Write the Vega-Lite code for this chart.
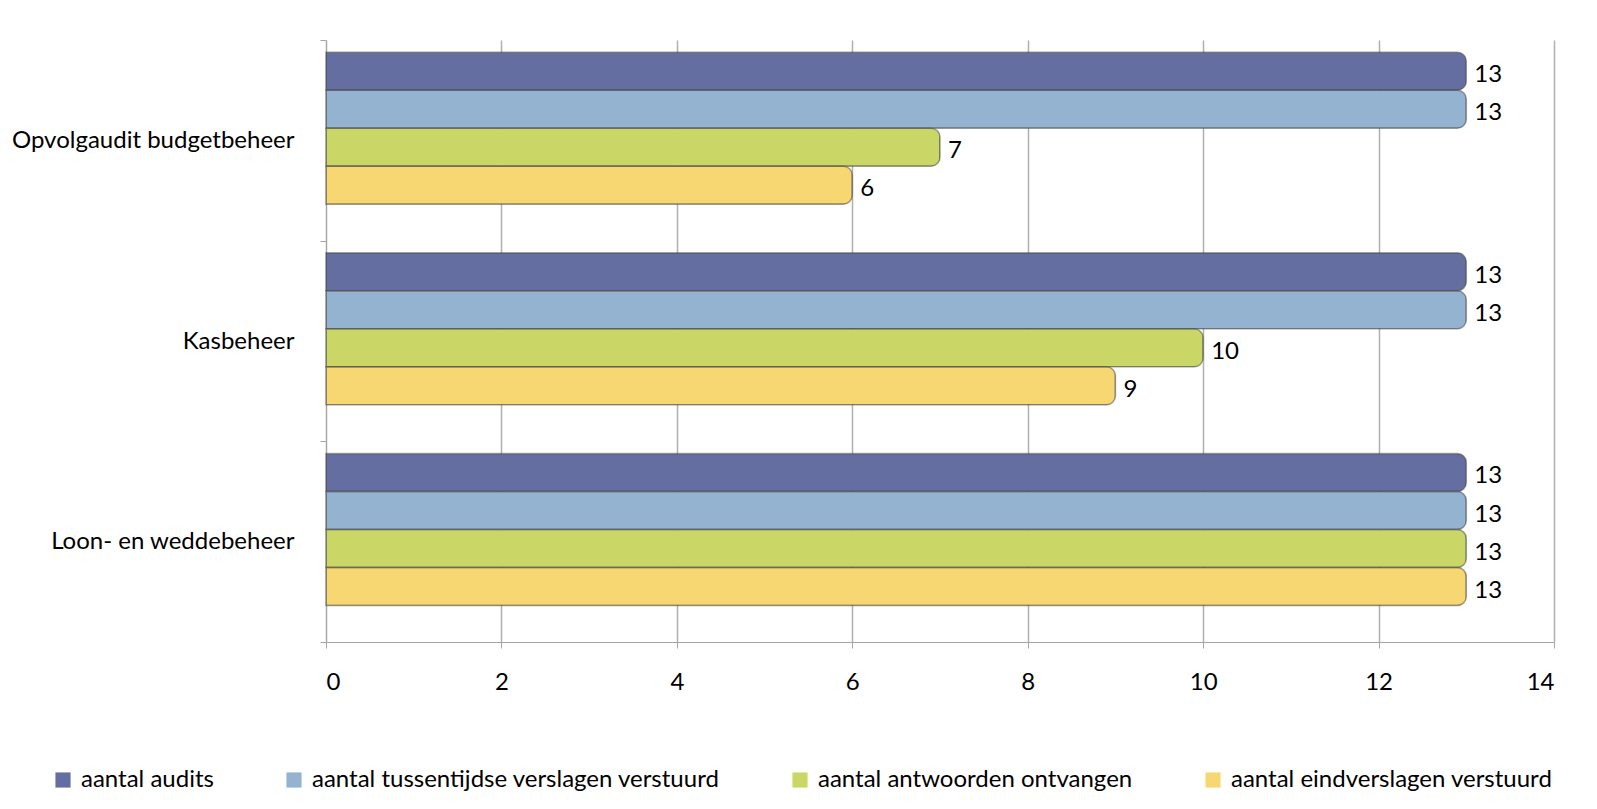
{
  "$schema": "https://vega.github.io/schema/vega-lite/v6.json",
  "width": 1228,
  "height": 602,
  "autosize": {"type": "none"},
  "padding": {"left": 326, "top": 40, "right": 43, "bottom": 167},
  "background": "white",
  "config": {
    "font": "Lato",
    "view": {"stroke": null},
    "axis": {"labelFont": "Lato", "labelFontSize": 24, "labelColor": "black", "domainColor": "#a6a6a6", "tickColor": "#a6a6a6", "gridColor": "#b0b0b0"},
    "legend": {"labelFont": "Lato", "labelFontSize": 24, "labelColor": "black"}
  },
  "data": {
    "values": [
      {"categorie": "Opvolgaudit budgetbeheer", "reeks": "aantal audits", "waarde": 13},
      {"categorie": "Opvolgaudit budgetbeheer", "reeks": "aantal tussentijdse verslagen verstuurd", "waarde": 13},
      {"categorie": "Opvolgaudit budgetbeheer", "reeks": "aantal antwoorden ontvangen", "waarde": 7},
      {"categorie": "Opvolgaudit budgetbeheer", "reeks": "aantal eindverslagen verstuurd", "waarde": 6},
      {"categorie": "Kasbeheer", "reeks": "aantal audits", "waarde": 13},
      {"categorie": "Kasbeheer", "reeks": "aantal tussentijdse verslagen verstuurd", "waarde": 13},
      {"categorie": "Kasbeheer", "reeks": "aantal antwoorden ontvangen", "waarde": 10},
      {"categorie": "Kasbeheer", "reeks": "aantal eindverslagen verstuurd", "waarde": 9},
      {"categorie": "Loon- en weddebeheer", "reeks": "aantal audits", "waarde": 13},
      {"categorie": "Loon- en weddebeheer", "reeks": "aantal tussentijdse verslagen verstuurd", "waarde": 13},
      {"categorie": "Loon- en weddebeheer", "reeks": "aantal antwoorden ontvangen", "waarde": 13},
      {"categorie": "Loon- en weddebeheer", "reeks": "aantal eindverslagen verstuurd", "waarde": 13}
    ]
  },
  "encoding": {
    "y": {
      "field": "categorie",
      "type": "nominal",
      "sort": ["Opvolgaudit budgetbeheer", "Kasbeheer", "Loon- en weddebeheer"],
      "scale": {"paddingInner": 0, "paddingOuter": 0},
      "axis": {"title": null, "labelPadding": 26, "labelLimit": 400, "tickBand": "extent", "tickSize": 6, "domain": true}
    },
    "yOffset": {
      "field": "reeks",
      "type": "nominal",
      "sort": ["aantal audits", "aantal tussentijdse verslagen verstuurd", "aantal antwoorden ontvangen", "aantal eindverslagen verstuurd"],
      "scale": {"paddingInner": 0, "paddingOuter": 0.64, "align": 0.25}
    },
    "x": {
      "field": "waarde",
      "type": "quantitative",
      "scale": {"domain": [0, 14], "nice": false},
      "axis": {"title": null, "values": [0, 2, 4, 6, 8, 10, 12, 14], "grid": true, "tickSize": 6, "labelPadding": 22, "gridWidth": 1.5}
    }
  },
  "layer": [
    {
      "mark": {"type": "bar", "cornerRadiusEnd": 9, "strokeWidth": 1.5, "strokeOpacity": 0.5, "stroke": "#4a4a4a"},
      "encoding": {
        "color": {
          "field": "reeks",
          "type": "nominal",
          "sort": ["aantal audits", "aantal tussentijdse verslagen verstuurd", "aantal antwoorden ontvangen", "aantal eindverslagen verstuurd"],
          "scale": {
            "domain": ["aantal audits", "aantal tussentijdse verslagen verstuurd", "aantal antwoorden ontvangen", "aantal eindverslagen verstuurd"],
            "range": ["#646ea1", "#93b3d0", "#cad766", "#f6d771"]
          },
          "legend": {
            "title": null,
            "orient": "none",
            "direction": "horizontal",
            "legendX": -275,
            "legendY": 728,
            "symbolType": "square",
            "symbolSize": 230,
            "symbolOpacity": 1,
            "symbolStrokeWidth": 0,
            "labelOffset": 6,
            "columnPadding": 68,
            "labelLimit": 600
          }
        }
      }
    },
    {
      "mark": {"type": "text", "align": "left", "baseline": "middle", "dx": 8, "dy": 4, "fontSize": 24, "color": "black"},
      "encoding": {"text": {"field": "waarde", "type": "quantitative"}}
    }
  ]
}
